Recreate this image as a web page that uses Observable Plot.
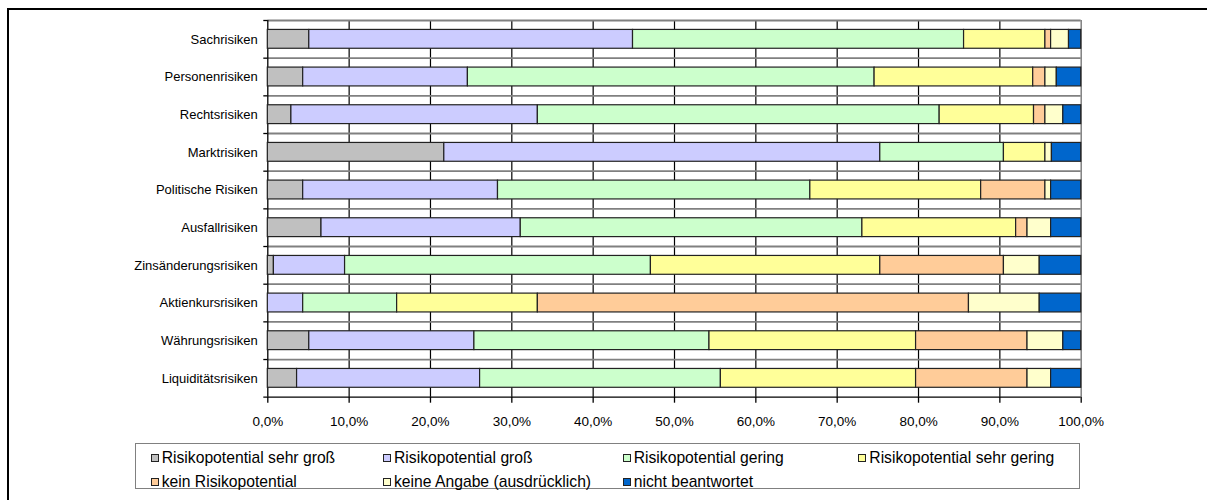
<!DOCTYPE html>
<html><head><meta charset="utf-8">
<script src="https://cdn.jsdelivr.net/npm/d3@7"></script>
<script src="https://cdn.jsdelivr.net/npm/@observablehq/plot@0.6"></script>
<style>
body{margin:0;background:#fff;font-family:"Liberation Sans",Arial,sans-serif;}
#wrap{position:relative;width:1207px;height:500px;overflow:hidden;background:#fff}
#frame{position:absolute;left:7px;top:8px;width:1300px;height:600px;border:2px solid #000;pointer-events:none;z-index:2}
#legend{position:absolute;left:135px;top:443px;width:943px;height:44px;border:1px solid #808080;background:#fff}
.item{position:absolute;display:flex;align-items:center;font-size:15.7px;white-space:nowrap;height:20px;line-height:20px;color:#000}
.sw{width:6px;height:6px;border:1px solid #222;margin-right:3px;flex:none}
</style></head><body><div id="wrap"><div id="frame"></div></div>
<script>
// ---- data ----
const categories = ["Sachrisiken","Personenrisiken","Rechtsrisiken","Marktrisiken","Politische Risiken","Ausfallrisiken","Zinsänderungsrisiken","Aktienkursrisiken","Währungsrisiken","Liquiditätsrisiken"];
const seriesNames = ["Risikopotential sehr groß","Risikopotential groß","Risikopotential gering","Risikopotential sehr gering","kein Risikopotential","keine Angabe (ausdrücklich)","nicht beantwortet"];
const seriesColors = ["#C0C0C0","#CCCCFF","#CCFFCC","#FFFF99","#FFCC99","#FFFFCC","#0066CC"];
const sehrGross   = [5.1, 4.35, 2.9, 21.7, 4.35, 6.6, 0.75, 0, 5.1, 3.6];
const gross       = [39.8, 20.25, 30.3, 53.6, 23.95, 24.5, 8.75, 4.35, 20.3, 22.5];
const gering      = [40.7, 50.0, 49.4, 15.2, 38.4, 42.0, 37.6, 11.55, 28.9, 29.6];
const sehrGering  = [10.0, 19.5, 11.6, 5.1, 21.0, 18.9, 28.2, 17.3, 25.4, 24.0];
const kein        = [0.7, 1.5, 1.4, 0, 7.9, 1.4, 15.2, 53.0, 13.7, 13.7];
const keineAngabe = [2.2, 1.4, 2.2, 0.8, 0.7, 2.9, 4.4, 8.7, 4.4, 2.9];
const nichtBeantw = [1.5, 3.0, 2.2, 3.6, 3.7, 3.7, 5.1, 5.1, 2.2, 3.7];
const xTicks = [0,10,20,30,40,50,60,70,80,90,100];
const seriesValues = [sehrGross, gross, gering, sehrGering, kein, keineAngabe, nichtBeantw];

const rows = categories.flatMap((c, i) => seriesNames.map((s, j) => ({category: c, series: s, value: seriesValues[j][i]})))
  .filter(d => d.value > 0);
const fmt = d => d.toFixed(1).replace(".", ",") + "%";

// ---- layout ----
const W = 1207, H = 440, mt = 20, mb = H - 396.7, ml = 267.3, mr = W - 1080.7;
const step = (H - mt - mb) / categories.length;

const chart = Plot.plot({
  width: W, height: H, marginTop: mt, marginBottom: mb, marginLeft: ml, marginRight: mr,
  style: {fontFamily: "Liberation Sans, Arial, sans-serif", fontSize: "13px", color: "#000", background: "transparent", overflow: "visible"},
  x: {domain: [0, 100], label: null},
  y: {domain: categories, paddingInner: 0.5, paddingOuter: 0.25, round: false, label: null},
  color: {domain: seriesNames, range: seriesColors},
  marks: [
    Plot.gridX(xTicks.slice(1, -1), {stroke: "#000", strokeOpacity: 1, strokeWidth: 1.2}),
    Plot.gridX([100], {stroke: "#808080", strokeOpacity: 1, strokeWidth: 1.5}),
    Plot.ruleY(categories, {y: d => d, dy: -step / 2, stroke: "#808080", strokeWidth: 1.8}),
    Plot.ruleY(categories, {y: d => d, dy: -step / 2, x1: 0, x2: 0, insetLeft: -4, stroke: "#000", strokeWidth: 1.3}),
    Plot.ruleY(categories.slice(-1), {y: d => d, dy: step / 2, insetLeft: -4, stroke: "#000", strokeWidth: 1.3}),
    Plot.gridX([0], {stroke: "#000", strokeOpacity: 1, strokeWidth: 1.3}),
    Plot.barX(rows, Plot.stackX({x: "value", y: "category", fill: "series", order: seriesNames, stroke: "#222", strokeWidth: 1.2})),
    Plot.axisX({ticks: xTicks, tickFormat: fmt, tickSize: 6, tickPadding: 13, fontSize: 13.5, label: null, stroke: "#000", strokeWidth: 1.3}),
    Plot.axisY({tickSize: 0, tickPadding: 10, label: null})
  ]
});
const wrap = document.getElementById("wrap");
chart.style.position = "absolute"; chart.style.left = "0px"; chart.style.top = "0px";
wrap.appendChild(chart);

// ---- legend ----
const legend = document.createElement("div");
legend.id = "legend";
const colX = [150.7, 383, 622.7, 858.3];
const rowY = [458, 481.5];
seriesNames.forEach((name, i) => {
  const it = document.createElement("div");
  it.className = "item";
  it.style.left = (colX[i % 4] - 136) + "px";
  it.style.top = (rowY[Math.floor(i / 4)] - 444 - 10) + "px";
  const sw = document.createElement("span");
  sw.className = "sw";
  sw.style.background = seriesColors[i];
  const tx = document.createElement("span");
  tx.textContent = name;
  it.appendChild(sw); it.appendChild(tx);
  legend.appendChild(it);
});
wrap.appendChild(legend);
</script>
</body></html>
